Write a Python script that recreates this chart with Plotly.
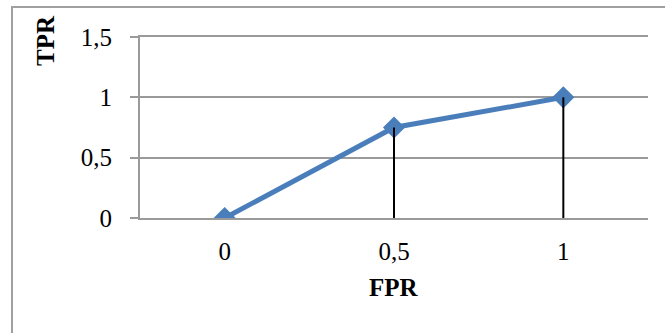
import plotly.graph_objects as go

# ROC points
fpr_labels = ["0", "0,5", "1"]
tpr_values = [0, 0.75, 1]
y_ticks = [0, 0.5, 1, 1.5]

W, H = 665, 333
L, R, T, B = 140, 17, 37, 115

fig = go.Figure()

fig.add_trace(go.Scatter(
    x=fpr_labels, y=tpr_values, mode="lines+markers",
    line=dict(color="#4a7ebb", width=5),
    marker=dict(symbol="diamond", size=17, color="#4a7ebb"),
    showlegend=False, hoverinfo="skip",
))

# vertical drop lines from each point to the x axis
drop_x, drop_y = [], []
for xl, yv in zip(fpr_labels, tpr_values):
    drop_x += [xl, xl, None]
    drop_y += [0, yv, None]
fig.add_trace(go.Scatter(
    x=drop_x, y=drop_y, mode="lines",
    line=dict(color="black", width=2),
    showlegend=False, hoverinfo="skip",
))

font = "'Liberation Serif', 'Times New Roman', Times, serif"
grid = "#9a9a9a"

fig.update_layout(
    width=W, height=H,
    margin=dict(l=L, r=R, t=T, b=B, pad=0),
    paper_bgcolor="white", plot_bgcolor="white",
    separators=",.",
    font=dict(family=font, size=25, color="black"),
    xaxis=dict(
        type="category", range=[-0.5, 2.5],
        showgrid=False, zeroline=False,
        showline=True, mirror=True, linecolor=grid, linewidth=2,
        ticks="",
        ticklabelstandoff=10,
        tickfont=dict(family=font, size=25),
    ),
    yaxis=dict(
        range=[0, 1.5], tickvals=y_ticks,
        showgrid=True, gridcolor=grid, gridwidth=2,
        zeroline=False,
        showline=True, linecolor=grid, linewidth=2,
        ticks="outside", ticklen=8, tickcolor=grid, tickwidth=2,
        ticklabelstandoff=13,
        tickfont=dict(family=font, size=25),
    ),
    annotations=[
        dict(text="<b>FPR</b>", xref="paper", yref="paper", x=0.5, y=0,
             xanchor="center", yanchor="top", yshift=-54, showarrow=False,
             font=dict(family=font, size=25)),
        dict(text="<b>TPR</b>", xref="paper", yref="paper",
             x=(45 - L) / (W - L - R), y=(H - B - 41) / (H - T - B),
             xanchor="center", yanchor="middle", textangle=-90,
             showarrow=False, font=dict(family=font, size=25)),
    ],
    shapes=[
        dict(type="rect", xref="paper", yref="paper",
             x0=(12 - L) / (W - L - R), x1=(680 - L) / (W - L - R),
             y0=(H - B - 345) / (H - T - B), y1=(H - B - 7) / (H - T - B),
             line=dict(color="#a0a0a0", width=2), layer="below"),
    ],
)

fig.write_html("out.html")
